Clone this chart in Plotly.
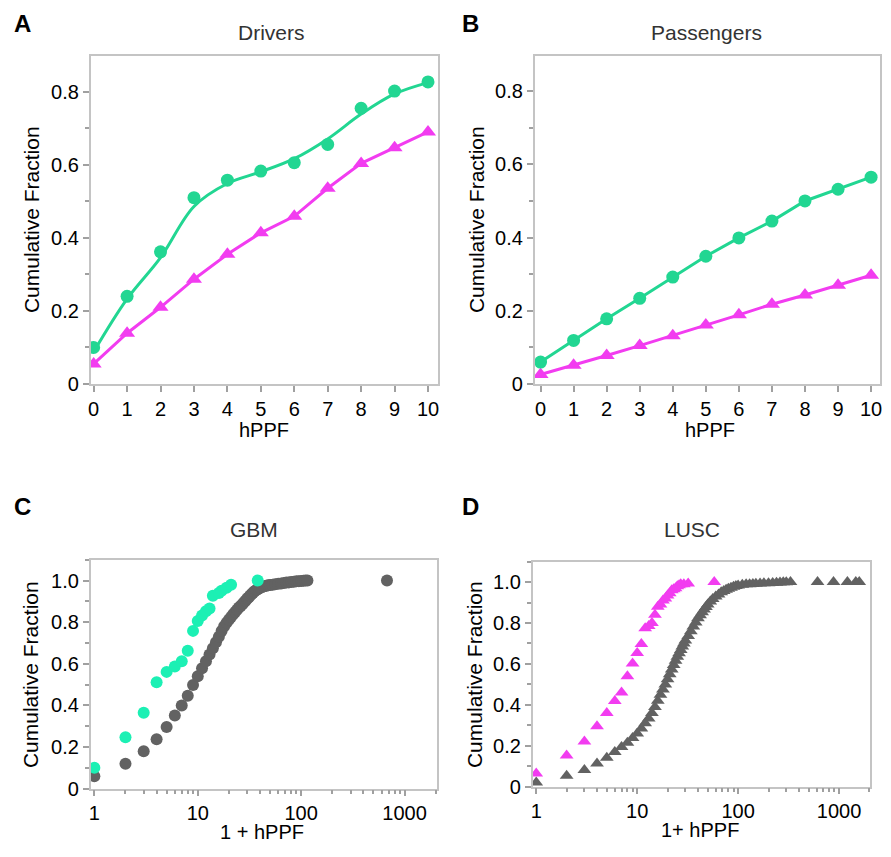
import plotly.graph_objects as go

# ---------------- data ----------------
hppf = [0, 1, 2, 3, 4, 5, 6, 7, 8, 9, 10]

# Panel A: Drivers
drivers_green = [0.10, 0.24, 0.362, 0.51, 0.558, 0.583, 0.606, 0.656, 0.755, 0.802, 0.827]
drivers_green_fit = [0.088, 0.233, 0.346, 0.486, 0.549, 0.581, 0.617, 0.671, 0.739, 0.794, 0.825]
drivers_magenta = [0.055, 0.139, 0.21, 0.287, 0.355, 0.414, 0.459, 0.536, 0.604, 0.647, 0.69]

# Panel B: Passengers
pass_green = [0.060, 0.119, 0.178, 0.234, 0.292, 0.349, 0.399, 0.445, 0.50, 0.532, 0.565]
pass_magenta = [0.026, 0.051, 0.078, 0.105, 0.132, 0.161, 0.189, 0.218, 0.243, 0.27, 0.297]

# Panel C: GBM
gbm_green_x = [1, 2, 3, 4, 5, 6, 7, 8, 9, 10, 11, 12, 13, 14, 16, 17, 19, 21, 38]
gbm_green_y = [0.10, 0.247, 0.365, 0.511, 0.561, 0.587, 0.612, 0.662, 0.758, 0.805, 0.832,
               0.852, 0.865, 0.927, 0.94, 0.951, 0.965, 0.98, 1.0]
gbm_gray_x = [1, 2, 3, 4, 5, 6, 7, 8, 9, 10, 11, 12, 13, 14, 15, 16, 17, 18, 19, 20,
              21, 22, 23, 24, 25, 26, 27, 28, 29, 30, 31, 32, 33, 34, 35, 36, 37, 38, 39, 40,
              42, 44, 46, 48, 50, 53, 56, 60, 64, 68, 72, 76, 80, 85, 90, 95, 100, 105, 110, 115,
              676]
gbm_gray_y = [0.06, 0.12, 0.18, 0.237, 0.296, 0.352, 0.399, 0.446, 0.498, 0.54,
              0.578, 0.612, 0.645, 0.675, 0.703, 0.73, 0.757, 0.78, 0.797, 0.812,
              0.825, 0.838, 0.849, 0.86, 0.87, 0.878, 0.886, 0.895, 0.903, 0.912,
              0.918, 0.927, 0.934, 0.94, 0.946, 0.951, 0.955, 0.958, 0.962, 0.965,
              0.969, 0.972, 0.975, 0.977, 0.978, 0.98, 0.982, 0.984, 0.986, 0.988,
              0.99, 0.991, 0.993, 0.994, 0.996, 0.997, 0.998, 0.999, 0.9995, 1.0,
              1.0]

# Panel D: LUSC
lusc_mag_x = [1, 2, 3, 4, 5, 6, 7, 8, 9, 10, 11, 12, 13, 14, 15, 16, 17, 18, 19, 20,
              21, 22, 23, 24, 25, 26, 27, 29, 32, 58]
lusc_mag_y = [0.065, 0.153, 0.221, 0.295, 0.36, 0.419, 0.46, 0.54, 0.602, 0.653,
              0.697, 0.775, 0.785, 0.80, 0.84, 0.88, 0.89, 0.91, 0.92, 0.935,
              0.945, 0.96, 0.965, 0.97, 0.98, 0.985, 0.99, 0.99, 0.993, 1.0]
lusc_gray_x = [1, 2, 3, 4, 5, 6, 7, 8, 9, 10, 11, 12, 13, 14, 15, 16, 17, 18, 19, 20,
               21, 22, 23, 24, 25, 26, 27, 28, 29, 30, 32, 34, 36, 38, 40, 42, 44, 46, 48, 50,
               53, 56, 60, 64, 68, 72, 76, 80, 85, 90, 95, 100, 110, 120, 130, 140, 150, 165,
               180, 200, 220, 240, 260, 280, 300, 330, 612, 881, 1210, 1465, 1585]
lusc_gray_y = [0.02, 0.053, 0.081, 0.113, 0.142, 0.169, 0.194, 0.215, 0.238, 0.26,
               0.285, 0.31, 0.333, 0.36, 0.39, 0.42, 0.45, 0.475, 0.5, 0.525,
               0.55, 0.573, 0.595, 0.615, 0.635, 0.652, 0.668, 0.685, 0.70, 0.714,
               0.737, 0.76, 0.783, 0.803, 0.823, 0.838, 0.853, 0.866, 0.878, 0.89,
               0.905, 0.917, 0.93, 0.94, 0.95, 0.957, 0.963, 0.968, 0.973, 0.977,
               0.981, 0.984, 0.987, 0.989, 0.99, 0.991, 0.992, 0.993, 0.994, 0.995,
               0.996, 0.997, 0.998, 0.999, 0.999, 1.0, 1.0, 1.0, 1.0, 1.0, 1.0]

titles = ["Drivers", "Passengers", "GBM", "LUSC"]
letters = ["A", "B", "C", "D"]
xtitles = ["hPPF", "hPPF", "1 + hPPF", "1+ hPPF"]
ytitle = "Cumulative Fraction"

# ---------------- style ----------------
OFF = 8                    # browser body margin on every side
W, H = 891 - 2 * OFF, 857 - 2 * OFF
GREEN = "#22d692"
GREEN_C = "#1cf0b4"
MAGENTA = "#f23cf0"
GRAY = "#626262"
FONT = "Liberation Sans, Arial, sans-serif"
AXC = "#c4c4c4"
TICKC = "#a0a0a0"


def fx(px):
    return (px - OFF) / W


def fy(py):
    return 1 - (py - OFF) / H


def dom_x(a, b):
    return [fx(a), fx(b)]


def dom_y(top, bottom):
    return [fy(bottom), fy(top)]


fig = go.Figure()

# Panel A
fig.add_trace(go.Scatter(x=hppf, y=drivers_green_fit, mode="lines",
                         line=dict(color=GREEN, width=3, shape="spline", smoothing=1.0),
                         xaxis="x", yaxis="y", showlegend=False, hoverinfo="skip"))
fig.add_trace(go.Scatter(x=hppf, y=drivers_magenta, mode="lines+markers", line=dict(color=MAGENTA, width=3),
                         marker=dict(symbol="triangle-up", size=14, color=MAGENTA),
                         xaxis="x", yaxis="y", showlegend=False))
fig.add_trace(go.Scatter(x=hppf, y=drivers_green, mode="markers",
                         marker=dict(symbol="circle", size=13, color=GREEN),
                         xaxis="x", yaxis="y", showlegend=False))

# Panel B
fig.add_trace(go.Scatter(x=hppf, y=pass_magenta, mode="lines+markers", line=dict(color=MAGENTA, width=3),
                         marker=dict(symbol="triangle-up", size=14, color=MAGENTA),
                         xaxis="x2", yaxis="y2", showlegend=False))
fig.add_trace(go.Scatter(x=hppf, y=pass_green, mode="lines+markers", line=dict(color=GREEN, width=3),
                         marker=dict(symbol="circle", size=13, color=GREEN),
                         xaxis="x2", yaxis="y2", showlegend=False))

# Panel C
fig.add_trace(go.Scatter(x=gbm_gray_x, y=gbm_gray_y, mode="markers",
                         marker=dict(symbol="circle", size=12, color=GRAY),
                         xaxis="x3", yaxis="y3", showlegend=False))
fig.add_trace(go.Scatter(x=gbm_green_x, y=gbm_green_y, mode="markers",
                         marker=dict(symbol="circle", size=12, color=GREEN_C),
                         xaxis="x3", yaxis="y3", showlegend=False))

# Panel D
fig.add_trace(go.Scatter(x=lusc_gray_x, y=lusc_gray_y, mode="markers",
                         marker=dict(symbol="triangle-up", size=12, color=GRAY),
                         xaxis="x4", yaxis="y4", showlegend=False))
fig.add_trace(go.Scatter(x=lusc_mag_x, y=lusc_mag_y, mode="markers",
                         marker=dict(symbol="triangle-up", size=12, color=MAGENTA),
                         xaxis="x4", yaxis="y4", showlegend=False))

tickfont = dict(family=FONT, size=20, color="#000")
common = dict(showline=True, linecolor=AXC, linewidth=1.5, mirror=True, ticks="outside",
              ticklen=6, tickcolor=TICKC, tickwidth=1.5, showgrid=False, zeroline=False,
              tickfont=tickfont)

lin_x = dict(common, tickvals=hppf, ticktext=[str(v) for v in hppf])
lin_y = dict(common, tickvals=[0, 0.2, 0.4, 0.6, 0.8], ticktext=["0", "0.2", "0.4", "0.6", "0.8"],
             minor=dict(ticks="outside", ticklen=4, tickcolor=TICKC, dtick=0.1, tick0=0))
log_x = dict(common, type="log", tickvals=[1, 10, 100, 1000], ticktext=["1", "10", "100", "1000"],
             minor=dict(ticks="outside", ticklen=4, tickcolor=TICKC, dtick="D1"))
c_y = dict(common, tickvals=[0, 0.2, 0.4, 0.6, 0.8, 1.0], ticktext=["0", "0.2", "0.4", "0.6", "0.8", "1.0"],
           minor=dict(ticks="outside", ticklen=4, tickcolor=TICKC, dtick=0.1, tick0=0))

fig.update_layout(
    width=W, height=H, margin=dict(l=0, r=0, t=0, b=0),
    paper_bgcolor="white", plot_bgcolor="white",
    xaxis=dict(lin_x, domain=dom_x(88, 437), range=[-0.09, 10.3], anchor="y"),
    yaxis=dict(lin_y, domain=dom_y(57, 389), range=[0, 0.897], anchor="x"),
    xaxis2=dict(lin_x, domain=dom_x(534, 881), range=[-0.18, 10.27], anchor="y2"),
    yaxis2=dict(lin_y, domain=dom_y(57, 389), range=[0, 0.895], anchor="x2"),
    xaxis3=dict(log_x, domain=dom_x(88, 436), range=[-0.036, 3.314], anchor="y3"),
    yaxis3=dict(c_y, domain=dom_y(567, 799), range=[0, 1.10], anchor="x3"),
    xaxis4=dict(log_x, domain=dom_x(532, 871), range=[-0.036, 3.307], anchor="y4"),
    yaxis4=dict(c_y, domain=dom_y(569, 797), range=[0, 1.10], anchor="x4"),
)

ann = []
# panel titles
title_pos = [(270, 33), (707, 33), (252, 536), (692, 536)]
for t, (x, y) in zip(titles, title_pos):
    ann.append(dict(text=t, x=fx(x), y=fy(y), xref="paper", yref="paper", showarrow=False,
                    font=dict(family=FONT, size=21, color="#333"), xanchor="center", yanchor="middle"))
# panel letters (left/top anchored so they stay inside the figure)
letter_pos = [(9, 8), (459, 8), (9, 497), (459, 497)]
for t, (x, y) in zip(letters, letter_pos):
    ann.append(dict(text="<b>" + t + "</b>", x=fx(x), y=fy(y), xref="paper", yref="paper", showarrow=False,
                    font=dict(family=FONT, size=24, color="#000"), xanchor="left", yanchor="top"))
# x-axis titles
xt_pos = [(262, 436), (710, 436), (260, 843), (700, 841)]
for t, (x, y) in zip(xtitles, xt_pos):
    ann.append(dict(text=t, x=fx(x), y=fy(y), xref="paper", yref="paper", showarrow=False,
                    font=dict(family=FONT, size=20, color="#000"), xanchor="center", yanchor="middle"))
# y-axis titles
yt_pos = [(28, 222), (475, 222), (27, 683), (473, 683)]
for (x, y) in yt_pos:
    ann.append(dict(text=ytitle, x=fx(x), y=fy(y), xref="paper", yref="paper",
                    showarrow=False, textangle=-90,
                    font=dict(family=FONT, size=21, color="#000"), xanchor="center", yanchor="middle"))
fig.update_layout(annotations=ann)

fig.write_html("out.html")
